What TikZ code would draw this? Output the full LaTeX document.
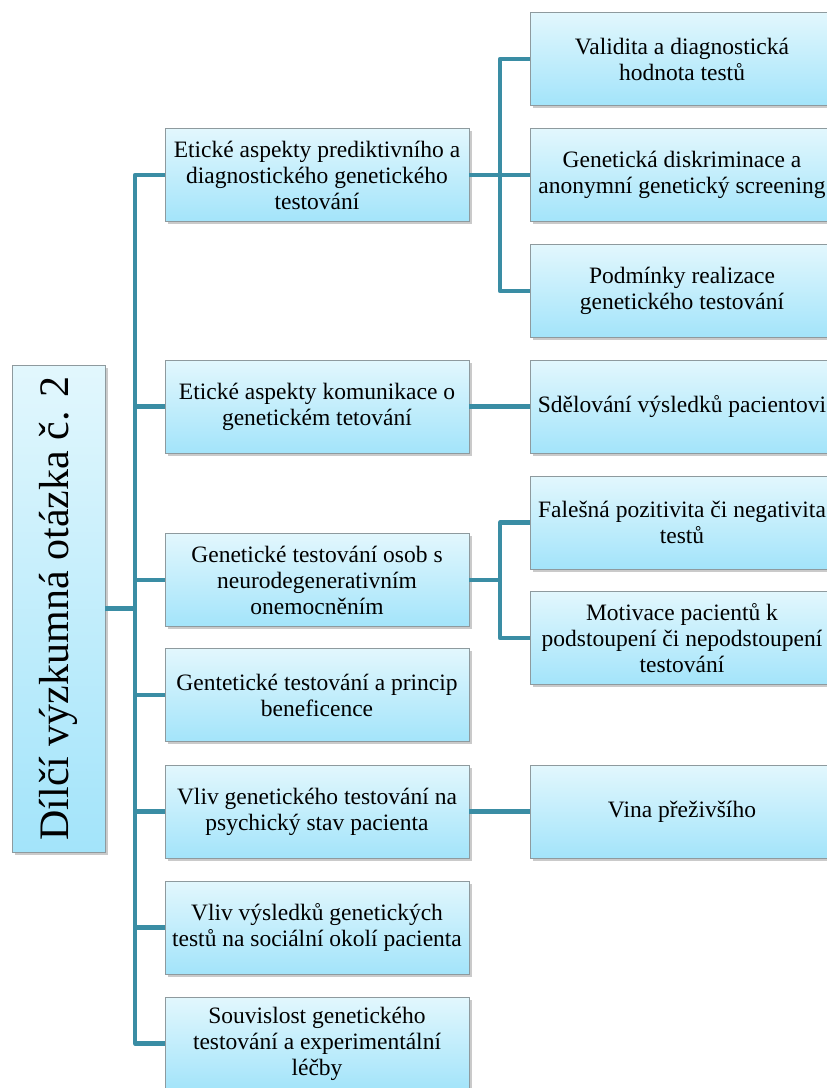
\documentclass[tikz,border=0pt]{standalone}
\usepackage{fontspec}
\setmainfont{Liberation Serif}
\usetikzlibrary{shadows}
\definecolor{linkc}{HTML}{3A8DA4}
\definecolor{boxtop}{HTML}{E2F7FD}
\definecolor{boxbot}{HTML}{A3E4FA}
\definecolor{boxedge}{HTML}{8E9A9E}
\tikzset{
  boxbase/.style={draw=boxedge, line width=0.9pt, top color=boxtop, bottom color=boxbot,
    drop shadow={shadow xshift=2.5pt, shadow yshift=-2.5pt, opacity=0.35, fill=black!60},
    align=center, inner sep=0pt},
  topicbox/.style={boxbase, minimum width=304pt, minimum height=93pt,
    font=\fontsize{23.5}{26}\selectfont},
  rootbox/.style={boxbase, minimum width=487pt, minimum height=93pt, rotate=90,
    font=\fontsize{42}{46}\selectfont},
  link/.style={draw=linkc, line width=4.2pt, line join=round, line cap=butt},
}
\begin{document}
\begin{tikzpicture}[x=1pt, y=-1pt]
\useasboundingbox (0,0) rectangle (827,1088);
\clip (0,0) rectangle (827,1088);

% root
\node[rootbox] (root) at (58.5,608.5) {Dílčí výzkumná otázka č. 2};

% first level
\node[topicbox] (a1) at (317,175) {Etické aspekty prediktivního a\\diagnostického genetického\\testování};
\node[topicbox] (a2) at (317,406.5) {Etické aspekty komunikace o\\genetickém tetování};
\node[topicbox] (a3) at (317,580) {Genetické testování osob s\\neurodegenerativním\\onemocněním};
\node[topicbox] (a4) at (317,695) {Gentetické testování a princip\\beneficence};
\node[topicbox] (a5) at (317,811.5) {Vliv genetického testování na\\psychický stav pacienta};
\node[topicbox] (a6) at (317,927.5) {Vliv výsledků genetických\\testů na sociální okolí pacienta};
\node[topicbox] (a7) at (317,1043.5) {Souvislost genetického\\testování a experimentální\\léčby};

% second level
\node[topicbox] (b1) at (682,59) {Validita a diagnostická\\hodnota testů};
\node[topicbox] (b2) at (682,175) {Genetická diskriminace a\\anonymní genetický screening};
\node[topicbox] (b3) at (682,291) {Podmínky realizace\\genetického testování};
\node[topicbox] (c1) at (682,406.5) {Sdělování výsledků pacientovi};
\node[topicbox] (d1) at (682,522.5) {Falešná pozitivita či negativita\\testů};
\node[topicbox] (d2) at (682,638) {Motivace pacientů k\\podstoupení či nepodstoupení\\testování};
\node[topicbox] (e1) at (682,811.5) {Vina přeživšího};

% trunk from the root to the first level
\coordinate (trunk) at (135,608.5);
\path[link] (root.south) -- (trunk);
\path[link] (a1.west) -| (trunk) |- (a7.west);
\foreach \n in {a2,a3,a4,a5,a6}{
  \path[link] (trunk |- \n.west) -- (\n.west);
}

% branches to the second level
\coordinate (j1) at (500,175);
\path[link] (a1.east) -- (j1);
\path[link] (b1.west) -| (j1) |- (b3.west);
\path[link] (j1) -- (b2.west);
\path[link] (a2.east) -- (c1.west);
\coordinate (j3) at (500,580);
\path[link] (a3.east) -- (j3);
\path[link] (d1.west) -| (j3) |- (d2.west);
\path[link] (a5.east) -- (e1.west);
\end{tikzpicture}
\end{document}
